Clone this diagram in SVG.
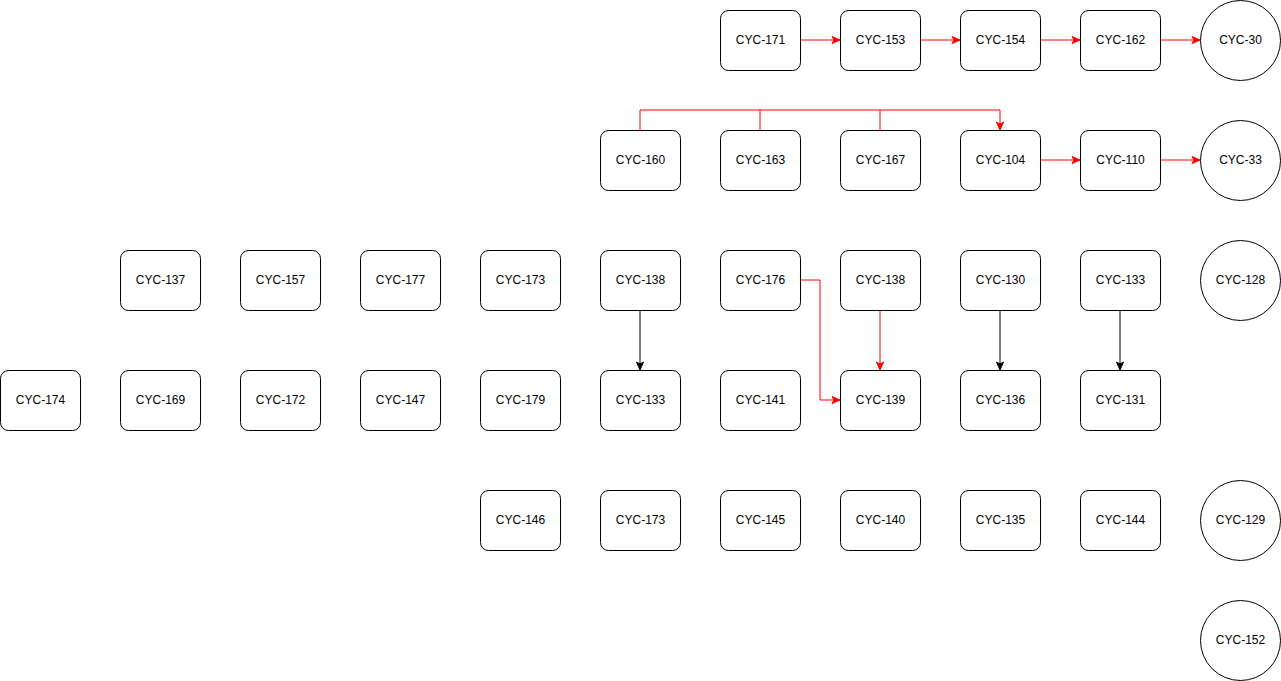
<svg xmlns="http://www.w3.org/2000/svg" width="1281" height="681" viewBox="0 0 1281 681">
<style>
.n rect{fill:#fff;stroke:#000;stroke-width:1}
.n circle{fill:#fff;stroke:#000;stroke-width:1}
.n text{font-family:"Liberation Sans",Arial,sans-serif;font-size:12px;fill:#000;text-anchor:middle;dominant-baseline:central}
.e{fill:none;stroke-width:1}
.r{stroke:#ff0000}
.k{stroke:#000}
</style>
<defs>
<marker id="ar" markerUnits="userSpaceOnUse" markerWidth="10" markerHeight="10" viewBox="0 0 10 10" refX="9" refY="5" orient="auto">
<path d="M1,1.5 L9,5 L1,8.5 L3,5 z" fill="#ff0000" stroke="#ff0000" stroke-width="1"/>
</marker>
<marker id="ak" markerUnits="userSpaceOnUse" markerWidth="10" markerHeight="10" viewBox="0 0 10 10" refX="9" refY="5" orient="auto">
<path d="M1,1.5 L9,5 L1,8.5 L3,5 z" fill="#000" stroke="#000" stroke-width="1"/>
</marker>
</defs>
<rect width="1281" height="681" fill="#fff"/>
<g id="connectors">
<path class="e r" d="M800,40 H840" marker-end="url(#ar)"/>
<path class="e r" d="M920,40 H960" marker-end="url(#ar)"/>
<path class="e r" d="M1040,40 H1080" marker-end="url(#ar)"/>
<path class="e r" d="M1160,40 H1200" marker-end="url(#ar)"/>
<path class="e r" d="M640,130 V110 H1000 V130" marker-end="url(#ar)"/>
<path class="e r" d="M760,130 V110"/>
<path class="e r" d="M880,130 V110"/>
<path class="e r" d="M1040,160 H1080" marker-end="url(#ar)"/>
<path class="e r" d="M1160,160 H1200" marker-end="url(#ar)"/>
<path class="e k" d="M640,310 V370" marker-end="url(#ak)"/>
<path class="e r" d="M800,280 H820 V400 H840" marker-end="url(#ar)"/>
<path class="e r" d="M880,310 V370" marker-end="url(#ar)"/>
<path class="e k" d="M1000,310 V370" marker-end="url(#ak)"/>
<path class="e k" d="M1120,310 V370" marker-end="url(#ak)"/>
</g>
<g id="n171" class="n"><rect x="720.5" y="10.5" width="80" height="60" rx="8"/><text x="760.5" y="40">CYC-171</text></g>
<g id="n153" class="n"><rect x="840.5" y="10.5" width="80" height="60" rx="8"/><text x="880.5" y="40">CYC-153</text></g>
<g id="n154" class="n"><rect x="960.5" y="10.5" width="80" height="60" rx="8"/><text x="1000.5" y="40">CYC-154</text></g>
<g id="n162" class="n"><rect x="1080.5" y="10.5" width="80" height="60" rx="8"/><text x="1120.5" y="40">CYC-162</text></g>
<g id="n30" class="n"><circle cx="1240.5" cy="40.5" r="40"/><text x="1240.5" y="40">CYC-30</text></g>

<g id="n160" class="n"><rect x="600.5" y="130.5" width="80" height="60" rx="8"/><text x="640.5" y="160">CYC-160</text></g>
<g id="n163" class="n"><rect x="720.5" y="130.5" width="80" height="60" rx="8"/><text x="760.5" y="160">CYC-163</text></g>
<g id="n167" class="n"><rect x="840.5" y="130.5" width="80" height="60" rx="8"/><text x="880.5" y="160">CYC-167</text></g>
<g id="n104" class="n"><rect x="960.5" y="130.5" width="80" height="60" rx="8"/><text x="1000.5" y="160">CYC-104</text></g>
<g id="n110" class="n"><rect x="1080.5" y="130.5" width="80" height="60" rx="8"/><text x="1120.5" y="160">CYC-110</text></g>
<g id="n33" class="n"><circle cx="1240.5" cy="160.5" r="40"/><text x="1240.5" y="160">CYC-33</text></g>

<g id="n137" class="n"><rect x="120.5" y="250.5" width="80" height="60" rx="8"/><text x="160.5" y="280">CYC-137</text></g>
<g id="n157" class="n"><rect x="240.5" y="250.5" width="80" height="60" rx="8"/><text x="280.5" y="280">CYC-157</text></g>
<g id="n177" class="n"><rect x="360.5" y="250.5" width="80" height="60" rx="8"/><text x="400.5" y="280">CYC-177</text></g>
<g id="n173a" class="n"><rect x="480.5" y="250.5" width="80" height="60" rx="8"/><text x="520.5" y="280">CYC-173</text></g>
<g id="n138a" class="n"><rect x="600.5" y="250.5" width="80" height="60" rx="8"/><text x="640.5" y="280">CYC-138</text></g>
<g id="n176" class="n"><rect x="720.5" y="250.5" width="80" height="60" rx="8"/><text x="760.5" y="280">CYC-176</text></g>
<g id="n138b" class="n"><rect x="840.5" y="250.5" width="80" height="60" rx="8"/><text x="880.5" y="280">CYC-138</text></g>
<g id="n130" class="n"><rect x="960.5" y="250.5" width="80" height="60" rx="8"/><text x="1000.5" y="280">CYC-130</text></g>
<g id="n133a" class="n"><rect x="1080.5" y="250.5" width="80" height="60" rx="8"/><text x="1120.5" y="280">CYC-133</text></g>
<g id="n128" class="n"><circle cx="1240.5" cy="280.5" r="40"/><text x="1240.5" y="280">CYC-128</text></g>

<g id="n174" class="n"><rect x="0.5" y="370.5" width="80" height="60" rx="8"/><text x="40.5" y="400">CYC-174</text></g>
<g id="n169" class="n"><rect x="120.5" y="370.5" width="80" height="60" rx="8"/><text x="160.5" y="400">CYC-169</text></g>
<g id="n172" class="n"><rect x="240.5" y="370.5" width="80" height="60" rx="8"/><text x="280.5" y="400">CYC-172</text></g>
<g id="n147" class="n"><rect x="360.5" y="370.5" width="80" height="60" rx="8"/><text x="400.5" y="400">CYC-147</text></g>
<g id="n179" class="n"><rect x="480.5" y="370.5" width="80" height="60" rx="8"/><text x="520.5" y="400">CYC-179</text></g>
<g id="n133b" class="n"><rect x="600.5" y="370.5" width="80" height="60" rx="8"/><text x="640.5" y="400">CYC-133</text></g>
<g id="n141" class="n"><rect x="720.5" y="370.5" width="80" height="60" rx="8"/><text x="760.5" y="400">CYC-141</text></g>
<g id="n139" class="n"><rect x="840.5" y="370.5" width="80" height="60" rx="8"/><text x="880.5" y="400">CYC-139</text></g>
<g id="n136" class="n"><rect x="960.5" y="370.5" width="80" height="60" rx="8"/><text x="1000.5" y="400">CYC-136</text></g>
<g id="n131" class="n"><rect x="1080.5" y="370.5" width="80" height="60" rx="8"/><text x="1120.5" y="400">CYC-131</text></g>

<g id="n146" class="n"><rect x="480.5" y="490.5" width="80" height="60" rx="8"/><text x="520.5" y="520">CYC-146</text></g>
<g id="n173b" class="n"><rect x="600.5" y="490.5" width="80" height="60" rx="8"/><text x="640.5" y="520">CYC-173</text></g>
<g id="n145" class="n"><rect x="720.5" y="490.5" width="80" height="60" rx="8"/><text x="760.5" y="520">CYC-145</text></g>
<g id="n140" class="n"><rect x="840.5" y="490.5" width="80" height="60" rx="8"/><text x="880.5" y="520">CYC-140</text></g>
<g id="n135" class="n"><rect x="960.5" y="490.5" width="80" height="60" rx="8"/><text x="1000.5" y="520">CYC-135</text></g>
<g id="n144" class="n"><rect x="1080.5" y="490.5" width="80" height="60" rx="8"/><text x="1120.5" y="520">CYC-144</text></g>
<g id="n129" class="n"><circle cx="1240.5" cy="520.5" r="40"/><text x="1240.5" y="520">CYC-129</text></g>

<g id="n152" class="n"><circle cx="1240.5" cy="640.5" r="40"/><text x="1240.5" y="640">CYC-152</text></g>
</svg>
